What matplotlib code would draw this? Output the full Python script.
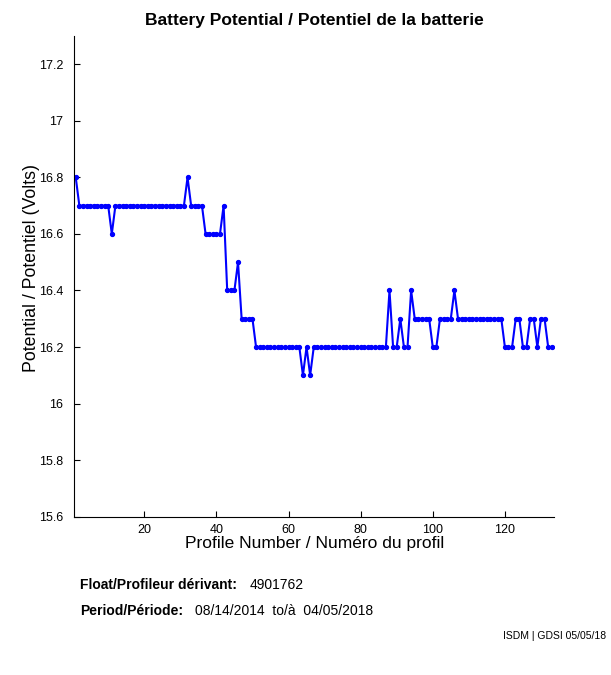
import matplotlib
matplotlib.use("Agg")
import matplotlib.pyplot as plt

# battery voltage for each profile
profiles = list(range(1, 134))
volts = [
    16.8, 16.7, 16.7, 16.7, 16.7, 16.7, 16.7, 16.7, 16.7, 16.7,   # 1-10
    16.6, 16.7, 16.7, 16.7, 16.7, 16.7, 16.7, 16.7, 16.7, 16.7,   # 11-20
    16.7, 16.7, 16.7, 16.7, 16.7, 16.7, 16.7, 16.7, 16.7, 16.7,   # 21-30
    16.7, 16.8, 16.7, 16.7, 16.7, 16.7, 16.6, 16.6, 16.6, 16.6,   # 31-40
    16.6, 16.7, 16.4, 16.4, 16.4, 16.5, 16.3, 16.3, 16.3, 16.3,   # 41-50
    16.2, 16.2, 16.2, 16.2, 16.2, 16.2, 16.2, 16.2, 16.2, 16.2,   # 51-60
    16.2, 16.2, 16.2, 16.1, 16.2, 16.1, 16.2, 16.2, 16.2, 16.2,   # 61-70
    16.2, 16.2, 16.2, 16.2, 16.2, 16.2, 16.2, 16.2, 16.2, 16.2,   # 71-80
    16.2, 16.2, 16.2, 16.2, 16.2, 16.2, 16.2, 16.4, 16.2, 16.2,   # 81-90
    16.3, 16.2, 16.2, 16.4, 16.3, 16.3, 16.3, 16.3, 16.3, 16.2,   # 91-100
    16.2, 16.3, 16.3, 16.3, 16.3, 16.4, 16.3, 16.3, 16.3, 16.3,   # 101-110
    16.3, 16.3, 16.3, 16.3, 16.3, 16.3, 16.3, 16.3, 16.3, 16.2,   # 111-120
    16.2, 16.2, 16.3, 16.3, 16.2, 16.2, 16.3, 16.3, 16.2, 16.3,   # 121-130
    16.3, 16.2, 16.2,                                             # 131-133
]

x_ticks = [20, 40, 60, 80, 100, 120]
y_ticks = [15.6, 15.8, 16.0, 16.2, 16.4, 16.6, 16.8, 17.0, 17.2]
y_ticklabels = ["15.6", "15.8", "16", "16.2", "16.4", "16.6", "16.8", "17", "17.2"]

float_id = "4901762"
period_start = "08/14/2014"
period_end = "04/05/2018"
stamp = "ISDM | GDSI 05/05/18"

FONT = "Liberation Sans"
plt.rcParams["font.family"] = [FONT, "DejaVu Sans"]

fig = plt.figure(figsize=(6.11, 6.75), dpi=100)
fig.patch.set_facecolor("white")
ax = fig.add_axes([0.1216, 0.2345, 0.7856, 0.7122])

ax.plot(profiles, volts, color="#0000ff", linewidth=1.5,
        marker="o", markersize=2.8, markerfacecolor="#0000ff", markeredgecolor="#0000ff")

ax.set_xlim(0.6, 133.7)
ax.set_ylim(15.6, 17.3)
ax.set_xticks(x_ticks)
ax.set_yticks(y_ticks)
ax.set_yticklabels(y_ticklabels)
ax.tick_params(direction="in", length=4, width=0.8, labelsize=9, colors="black")
ax.tick_params(axis="y", pad=8)
ax.tick_params(axis="x", pad=5)

# only left and bottom axes, like the original
ax.spines["top"].set_visible(False)
ax.spines["right"].set_visible(False)
ax.spines["left"].set_linewidth(0.8)
ax.spines["bottom"].set_linewidth(0.8)

ax.set_title("Battery Potential / Potentiel de la batterie", fontsize=12.5,
             fontweight="bold", pad=8)
ax.set_xlabel("Profile Number / Numéro du profil", fontsize=12.5, labelpad=0)
ax.set_ylabel("Potential / Potentiel (Volts)", fontsize=12.8)
ax.yaxis.set_label_coords(-0.072, 0.518)

# float info under the plot
fig.text(80 / 611, 1 - 585 / 675, "Float/Profileur dérivant:", fontsize=10,
         fontweight="bold", va="center", ha="left")
fig.text(250 / 611, 1 - 585 / 675, float_id, fontsize=10, va="center", ha="left")
fig.text(80 / 611, 1 - 611 / 675, "Period/Période:", fontsize=10,
         fontweight="bold", va="center", ha="left")
fig.text(195 / 611, 1 - 611 / 675, period_start + "  to/à  " + period_end,
         fontsize=10, va="center", ha="left")
fig.text(606 / 611, 1 - 636 / 675, stamp, fontsize=7.5, va="center", ha="right")

fig.savefig("out.png", dpi=100, facecolor="white")
